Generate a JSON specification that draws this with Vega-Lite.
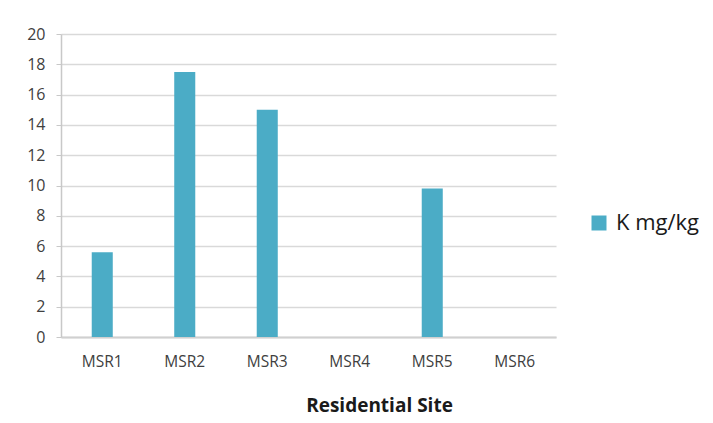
{
  "$schema": "https://vega.github.io/schema/vega-lite/v6.json",
  "autosize": "none",
  "width": 495,
  "height": 303,
  "padding": {"left": 61, "top": 34, "right": 157, "bottom": 86},
  "background": "white",
  "config": {
    "view": {"stroke": null},
    "font": "Open Sans"
  },
  "data": {
    "values": [
      {"site": "MSR1", "value": 5.6, "series": "K mg/kg"},
      {"site": "MSR2", "value": 17.5, "series": "K mg/kg"},
      {"site": "MSR3", "value": 15.0, "series": "K mg/kg"},
      {"site": "MSR4", "value": 0, "series": "K mg/kg"},
      {"site": "MSR5", "value": 9.8, "series": "K mg/kg"},
      {"site": "MSR6", "value": 0, "series": "K mg/kg"}
    ]
  },
  "mark": {"type": "bar"},
  "encoding": {
    "x": {
      "field": "site",
      "type": "nominal",
      "sort": null,
      "scale": {"paddingInner": 0.745, "paddingOuter": 0.3725},
      "axis": {
        "title": "Residential Site",
        "titleFontSize": 19,
        "titleFontWeight": "bold",
        "titleColor": "#1a1a1a",
        "titleX": 318,
        "titleY": 74,
        "titleAlign": "center",
        "titleBaseline": "alphabetic",
        "labelAngle": 0,
        "labelFontSize": 15.5,
        "labelColor": "#404040",
        "labelPadding": 17,
        "ticks": false,
        "domainColor": "#d0d0d0",
        "domainWidth": 2
      }
    },
    "y": {
      "field": "value",
      "type": "quantitative",
      "scale": {"domain": [0, 20]},
      "axis": {
        "title": null,
        "values": [0, 2, 4, 6, 8, 10, 12, 14, 16, 18, 20],
        "labelFontSize": 16,
        "labelColor": "#404040",
        "labelPadding": 11,
        "tickColor": "#c8c8c8",
        "tickSize": 5,
        "domainColor": "#c8c8c8",
        "domainWidth": 1.5,
        "gridColor": "#d9d9d9",
        "gridWidth": 1.5
      }
    },
    "color": {
      "field": "series",
      "type": "nominal",
      "scale": {"range": ["#4BACC6"]},
      "legend": {
        "title": null,
        "orient": "none",
        "legendX": 527,
        "legendY": 178,
        "symbolType": "square",
        "symbolSize": 225,
        "symbolStrokeWidth": 0,
        "labelFontSize": 22,
        "labelColor": "#1a1a1a",
        "labelOffset": 6
      }
    }
  }
}
